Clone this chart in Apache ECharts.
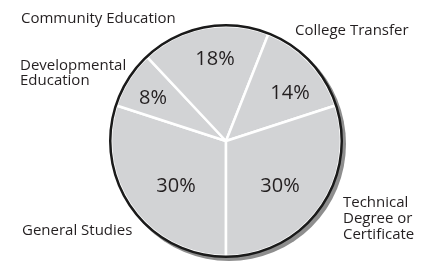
<!DOCTYPE html>
<html>
<head>
<meta charset="utf-8">
<script src="https://cdn.jsdelivr.net/npm/echarts@6/dist/echarts.min.js"></script>
<style>
html,body{margin:0;padding:0;background:#fff;}
#main{width:427px;height:262px;}
</style>
</head>
<body>
<div id="main"></div>
<script>
// ---- data (clockwise from the bottom) ----
const categories = ['General Studies', 'Developmental Education', 'Community Education', 'College Transfer', 'Technical Degree or Certificate'];
const values = [30, 8, 18, 14, 30];
const percentLabels = ['30%', '8%', '18%', '14%', '30%'];
const nameLabels = ['General Studies', 'Developmental\nEducation', 'Community Education', 'College Transfer', 'Technical\nDegree or\nCertificate'];

// ---- layout / style ----
const CX = 226, CY = 141, R = 115;
// percent label placement: [radius px, compass angle deg]
const labelPolar = [[66.6, 228.7], [85.2, 301.1], [83.7, 352.5], [80.6, 52.6], [69.7, 129.2]];
const namePos = [[22, 231], [20, 73], [21, 19], [295, 31], [343, 219]];
const nameLH = [16, 15, 16, 16, 16];
const FONT = '"Open Sans", "Noto Sans", sans-serif';
const TEXT = '#231f20';

const chart = echarts.init(document.getElementById('main'), null, {renderer: 'canvas'});

const pieData = categories.map((c, i) => ({name: c, value: values[i]}));

chart.setOption({
  animation: false,
  backgroundColor: '#ffffff',
  series: [
    { // drop shadow
      type: 'pie', silent: true, center: [CX + 3, CY + 3], radius: [0, R + 2],
      startAngle: 270, label: {show: false}, labelLine: {show: false},
      itemStyle: {color: '#8e8e8e'}, emphasis: {disabled: true},
      data: [{name: 'shadow', value: 1}]
    },
    { // main pie
      type: 'pie', silent: true, center: [CX, CY], radius: [0, R],
      startAngle: 270, clockwise: true, avoidLabelOverlap: false,
      itemStyle: {color: '#d2d3d5', borderColor: '#ffffff', borderWidth: 2.5},
      emphasis: {disabled: true},
      labelLine: {show: false},
      label: {
        show: true, position: 'inside',
        formatter: p => percentLabels[p.dataIndex],
        fontFamily: FONT, fontSize: 20, color: TEXT
      },
      labelLayout: function (p) {
        const r = p.labelRect;
        const lx = r.x + r.width / 2, ly = r.y + r.height / 2;
        const pol = labelPolar[p.dataIndex];
        const a = pol[1] * Math.PI / 180;
        const tx = CX + pol[0] * Math.sin(a), ty = CY - pol[0] * Math.cos(a);
        return {dx: tx - lx, dy: ty - ly + 1};
      },
      data: pieData
    },
    { // outline ring
      type: 'pie', silent: true, center: [CX, CY], radius: [R - 0.5, R + 2],
      startAngle: 270, label: {show: false}, labelLine: {show: false},
      itemStyle: {color: '#1a1a1a'}, emphasis: {disabled: true},
      data: [{name: 'outline', value: 1}]
    }
  ],
  graphic: nameLabels.map((t, i) => ({
    type: 'text', left: namePos[i][0], top: namePos[i][1] - (t.split('\n').length * nameLH[i]) / 2,
    silent: true,
    style: {text: t, font: '15px ' + FONT, fill: TEXT, lineHeight: nameLH[i]}
  }))
});
</script>
</body>
</html>
